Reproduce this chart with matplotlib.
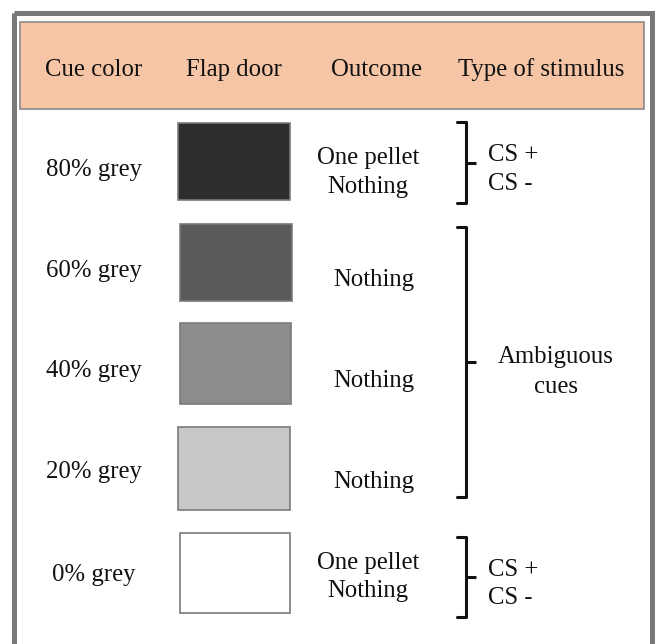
import matplotlib
matplotlib.use("Agg")
import matplotlib.pyplot as plt
from matplotlib.patches import Rectangle

# ---- data ----
headers = ["Cue color", "Flap door", "Outcome", "Type of stimulus"]
cue_labels = ["80% grey", "60% grey", "40% grey", "20% grey", "0% grey"]
grey_percent = [80, 60, 40, 20, 0]
outcomes = [["One pellet", "Nothing"], ["Nothing"], ["Nothing"], ["Nothing"], ["One pellet", "Nothing"]]
stimulus_groups = [["CS +", "CS -"], ["Ambiguous", "cues"], ["CS +", "CS -"]]
group_rows = [(0, 0), (1, 3), (4, 4)]

# ---- styles / layout (pixels, top-origin) ----
W, H = 659, 644
door_colors = ["#2d2d2d", "#5a5a5a", "#8c8c8c", "#c8c8c8", "#ffffff"]
row_y = [167, 268, 368, 469, 572]
door_boxes = [(178, 123, 112, 77), (180, 224, 112, 77), (180, 323, 111, 81),
              (178, 427, 112, 83), (180, 533, 110, 80)]
outcome_y = [[155, 184], [277], [378], [479], [560, 589]]
outcome_x = [368, 374, 374, 374, 368]
bracket_spans = [(122, 203), (227, 497), (537, 617)]
font = "Liberation Serif"
fs = 17.8
dy = 2.5  # text baseline correction

fig = plt.figure(figsize=(W / 100, H / 100), dpi=100)
ax = fig.add_axes([0, 0, 1, 1])
ax.set_xlim(0, W)
ax.set_ylim(H, 0)
ax.axis("off")


def txt(x, y, s, ha="center"):
    ax.text(x, y + dy, s, ha=ha, va="center", fontsize=fs, family=font, color="#111111")


# outer frame
ax.add_patch(Rectangle((13.5, 13), 638.5, 640, fill=False, edgecolor="#787878", lw=3.6))
# header band
ax.add_patch(Rectangle((20, 22), 624, 87, facecolor="#f6c5a5", edgecolor="#8a8a8a", lw=1.2))
header_x = [94, 234, 376, 541]
for hx, h in zip(header_x, headers):
    txt(hx, 67, h)

for i, lab in enumerate(cue_labels):
    txt(94, row_y[i], lab)
    x, y, w, h = door_boxes[i]
    ax.add_patch(Rectangle((x, y), w, h, facecolor=door_colors[i], edgecolor="#7a7a7a", lw=1.2))
    for t, ty in zip(outcomes[i], outcome_y[i]):
        txt(outcome_x[i], ty, t)

# brackets and stimulus type labels
for g, (labels, (y0, y1)) in enumerate(zip(stimulus_groups, bracket_spans)):
    xm = 466
    ym = (y0 + y1) / 2
    ax.plot([457, xm, xm, 457], [y0, y0, y1, y1], color="#111111", lw=2.2,
            solid_capstyle="round", solid_joinstyle="round")
    ax.plot([xm, 476], [ym, ym], color="#111111", lw=2.2, solid_capstyle="butt")
    if g == 1:
        txt(556, ym - 8, labels[0])
        txt(556, ym + 22, labels[1])
    else:
        txt(488, ym - 10, labels[0], ha="left")
        txt(488, ym + 19, labels[1], ha="left")

fig.savefig("out.png", dpi=100, facecolor="white")
